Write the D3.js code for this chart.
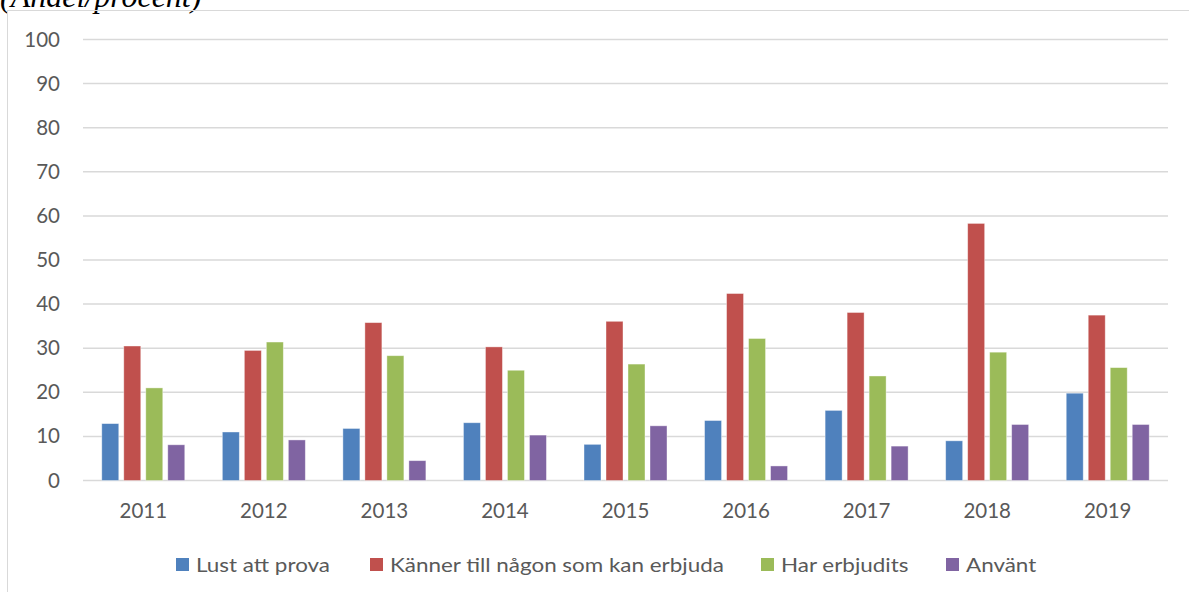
<!DOCTYPE html>
<html>
<head>
<meta charset="utf-8">
<script src="https://cdn.jsdelivr.net/npm/d3@7"></script>
<style>
  html, body { margin: 0; padding: 0; background: #fff; }
  svg { display: block; }
</style>
</head>
<body>
<svg id="chart" width="1189" height="592"></svg>
<script>
// Survey shares by year (percent)
const years = ["2011", "2012", "2013", "2014", "2015", "2016", "2017", "2018", "2019"];
const seriesNames = ["Lust att prova", "Känner till någon som kan erbjuda", "Har erbjudits", "Använt"];
const lustAttProva = [12.9, 11.0, 11.8, 13.1, 8.2, 13.6, 15.9, 9.0, 19.8];
const kannerTill = [30.5, 29.5, 35.8, 30.3, 36.1, 42.4, 38.1, 58.3, 37.5];
const harErbjudits = [21.0, 31.4, 28.3, 25.0, 26.4, 32.2, 23.7, 29.1, 25.6];
const anvant = [8.1, 9.2, 4.5, 10.3, 12.4, 3.3, 7.8, 12.7, 12.7];
const yTicks = [0, 10, 20, 30, 40, 50, 60, 70, 80, 90, 100];
const colors = ["#4f81bd", "#c0504d", "#9bbb59", "#8064a2"];

const seriesValues = [lustAttProva, kannerTill, harErbjudits, anvant];

const svg = d3.select("#chart");
const font = "Lato, 'Open Sans', sans-serif";
const textColor = "#595959";
const gridColor = "#d9d9d9";

// Heading (partly above the visible area)
svg.append("text")
  .attr("x", 0).attr("y", 7)
  .attr("font-family", "'Liberation Serif', 'Times New Roman', serif")
  .attr("font-style", "italic")
  .attr("font-size", 32)
  .attr("fill", "#000")
  .text("(Andel/procent)");

// Chart frame
svg.append("rect")
  .attr("x", 7.5).attr("y", 10.5)
  .attr("width", 1190).attr("height", 600)
  .attr("fill", "none")
  .attr("stroke", gridColor)
  .attr("stroke-width", 1);

const plot = { left: 83, right: 1168, top: 39.5, bottom: 480.5 };

const x = d3.scaleBand()
  .domain(years)
  .range([plot.left, plot.right]);

const y = d3.scaleLinear()
  .domain([0, 100])
  .range([plot.bottom, plot.top]);

// Gridlines
svg.append("g")
  .selectAll("line")
  .data(yTicks)
  .join("line")
  .attr("x1", plot.left).attr("x2", plot.right)
  .attr("y1", d => y(d)).attr("y2", d => y(d))
  .attr("stroke", gridColor)
  .attr("stroke-width", 1.5);

const axisFontSize = 20.5;

// Y axis labels
const yAxis = d3.axisLeft(y).tickValues(yTicks).tickSize(0).tickPadding(0);
const yg = svg.append("g").attr("transform", "translate(60,0)").call(yAxis);
yg.select(".domain").remove();
yg.selectAll("text")
  .attr("font-family", font)
  .attr("font-size", axisFontSize)
  .attr("fill", textColor);

// X axis labels
const xAxis = d3.axisBottom(x).tickSize(0).tickPadding(0);
const xg = svg.append("g").attr("transform", "translate(0,503)").call(xAxis);
xg.select(".domain").remove();
xg.selectAll("text")
  .attr("font-family", font)
  .attr("font-size", axisFontSize)
  .attr("fill", textColor);

// Bars within each year group
const slot = 22;
const barWidth = 17;
const inner = d3.scaleBand()
  .domain(d3.range(seriesNames.length))
  .range([-slot * 2, slot * 2]);

const groups = svg.append("g")
  .selectAll("g")
  .data(years)
  .join("g")
  .attr("transform", d => `translate(${x(d) + x.bandwidth() / 2},0)`);

groups.selectAll("rect")
  .data((yr, i) => seriesValues.map((vals, s) => ({ s, v: vals[i] })))
  .join("rect")
  .attr("x", d => inner(d.s) + (slot - barWidth) / 2)
  .attr("width", barWidth)
  .attr("y", d => y(d.v))
  .attr("height", d => y(0) - y(d.v))
  .attr("fill", d => colors[d.s])
  .attr("stroke", "#ffffff")
  .attr("stroke-opacity", 0.5)
  .attr("stroke-width", 0.8);

// Legend
const legendX = [176, 370, 761, 946];
const legendStretch = 1.15;
const legend = svg.append("g")
  .selectAll("g")
  .data(seriesNames)
  .join("g")
  .attr("transform", (d, i) => `translate(${legendX[i]},558)`);

legend.append("rect")
  .attr("width", 13).attr("height", 13)
  .attr("fill", (d, i) => colors[i]);

legend.append("text")
  .attr("transform", `translate(20,7) scale(${legendStretch},1)`)
  .attr("dy", "0.35em")
  .attr("font-family", font)
  .attr("font-size", 19.5)
  .attr("fill", textColor)
  .text(d => d);
</script>
</body>
</html>
